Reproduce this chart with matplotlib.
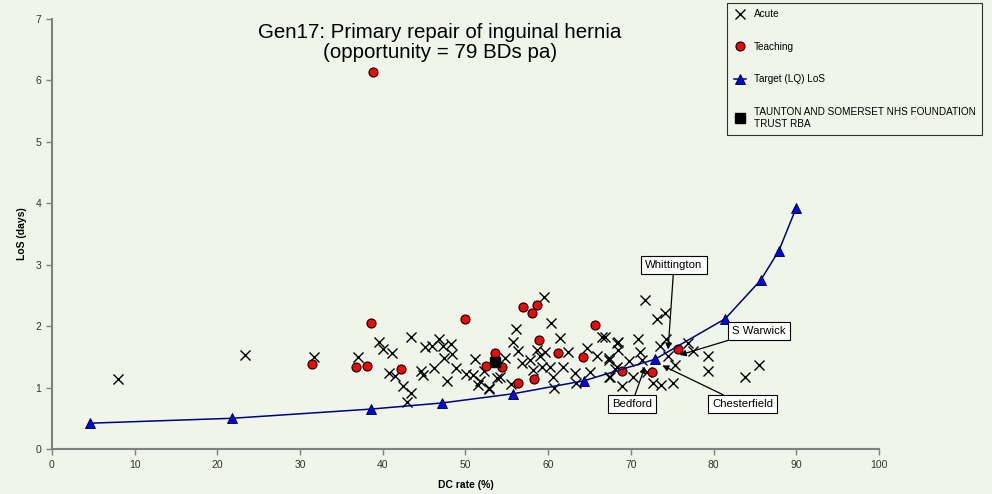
import matplotlib
matplotlib.use('Agg')
import matplotlib.pyplot as plt

plt.rcParams['font.family'] = ['Liberation Sans', 'DejaVu Sans']

bg = '#eff5e8'

# Acute trusts (DC rate %, LoS days)
acute_x = [8.0, 23.3, 31.7, 37.0, 39.5, 40.0, 41.1, 43.4, 40.8, 41.5, 42.4, 43.4, 42.9,
           44.6, 44.9, 45.1, 46.0, 46.8, 47.3, 48.2, 48.4, 47.4, 46.2, 47.8, 48.9, 50.1,
           51.1, 50.9, 51.8, 51.5, 52.8, 52.2, 53.8, 59.5, 60.3, 56.1, 55.7, 56.4, 54.8,
           54.2, 52.8, 55.5, 61.4, 58.7, 59.6, 62.4, 56.8, 57.8, 59.0, 58.2, 59.2, 60.2,
           60.6, 61.8, 60.7, 64.7, 65.9, 66.5, 63.2, 63.4, 65.1, 67.3, 67.4, 68.3, 68.3,
           71.7, 74.1, 73.1, 66.9, 68.5, 70.8, 68.5, 71.1, 74.3, 73.5, 76.9, 77.5, 67.3,
           68.1, 69.8, 71.4, 67.5, 70.3, 72.0, 68.9, 74.5, 75.3, 72.7, 73.6, 75.1, 79.3,
           79.3, 85.5, 83.8]
acute_y = [1.14, 1.53, 1.49, 1.49, 1.75, 1.62, 1.57, 1.82, 1.23, 1.19, 1.03, 0.91, 0.76,
           1.27, 1.20, 1.66, 1.68, 1.79, 1.67, 1.71, 1.54, 1.48, 1.32, 1.11, 1.32, 1.22,
           1.47, 1.20, 1.11, 1.04, 0.97, 1.27, 1.15, 2.47, 2.05, 1.95, 1.75, 1.59, 1.48,
           1.17, 0.99, 1.05, 1.80, 1.61, 1.58, 1.58, 1.40, 1.45, 1.51, 1.29, 1.34, 1.34,
           1.17, 1.34, 1.00, 1.64, 1.51, 1.82, 1.23, 1.08, 1.26, 1.48, 1.18, 1.73, 1.34,
           2.43, 2.22, 2.11, 1.82, 1.75, 1.79, 1.61, 1.58, 1.79, 1.68, 1.73, 1.60, 1.45,
           1.31, 1.44, 1.45, 1.17, 1.18, 1.26, 1.02, 1.51, 1.37, 1.07, 1.04, 1.08, 1.51,
           1.27, 1.37, 1.17]

# Teaching trusts
teach_x = [31.4, 36.8, 38.1, 38.6, 38.8, 42.2, 49.9, 52.5, 53.6, 54.4, 56.3, 57.0,
           58.1, 58.6, 58.3, 58.9, 61.2, 64.2, 65.6, 68.9, 72.6, 75.7]
teach_y = [1.39, 1.33, 1.35, 2.05, 6.14, 1.31, 2.12, 1.35, 1.56, 1.33, 1.07, 2.31,
           2.21, 2.35, 1.14, 1.77, 1.57, 1.50, 2.02, 1.27, 1.25, 1.63]

# Target (LQ) LoS curve
target_x = [4.6, 21.8, 38.6, 47.2, 55.8, 64.3, 72.9, 81.4, 85.7, 87.9, 90.0]
target_y = [0.42, 0.50, 0.65, 0.75, 0.90, 1.11, 1.46, 2.12, 2.75, 3.23, 3.93]

# highlighted trust
rba_x = [53.6]
rba_y = [1.42]

# labelled trusts: name, point, label position
ann_names = ['Whittington', 'S Warwick', 'Bedford', 'Chesterfield']
ann_pts = [(74.5, 1.62), (75.9, 1.53), (71.7, 1.34), (73.8, 1.36)]
ann_txt = [(75.2, 2.99), (85.5, 1.92), (70.1, 0.73), (83.5, 0.73)]

fig = plt.figure(figsize=(9.92, 4.94), dpi=100, facecolor=bg)
ax = fig.add_axes([0.0524, 0.0911, 0.8337, 0.8704], facecolor=bg)

ax.plot(acute_x, acute_y, ls='none', marker='x', ms=7, mew=1.0, color='black', label='Acute', zorder=3)
ax.plot(teach_x, teach_y, ls='none', marker='o', ms=6.5, mfc='red', mec='black', mew=0.8,
        label='Teaching', zorder=4)
ax.plot(target_x, target_y, color='#000080', lw=1.1, marker='^', ms=6.5, mfc='blue', mec='black',
        mew=0.6, label='Target (LQ) LoS', zorder=5)
ax.plot(rba_x, rba_y, ls='none', marker='s', ms=7.5, color='black',
        label='TAUNTON AND SOMERSET NHS FOUNDATION\nTRUST RBA', zorder=6)

for name, pt, tp in zip(ann_names, ann_pts, ann_txt):
    ax.annotate(name, xy=pt, xytext=tp, fontsize=8.2, ha='center', va='center',
                bbox=dict(boxstyle='square,pad=0.35', fc='white', ec='black', lw=0.8),
                arrowprops=dict(arrowstyle='-|>', color='black', lw=0.9, mutation_scale=9,
                                shrinkA=0, shrinkB=0),
                zorder=7)

ax.text(46.9, 6.62, 'Gen17: Primary repair of inguinal hernia\n(opportunity = 79 BDs pa)',
        ha='center', va='center', fontsize=14.8, linespacing=1.1)

ax.set_xlim(0, 100)
ax.set_ylim(0, 7)
ax.set_xticks(range(0, 101, 10))
ax.set_yticks(range(0, 8))
ax.tick_params(labelsize=7.5, length=4, width=1, color='#808080', labelcolor='#333333')
ax.tick_params(axis='x', pad=4)
for s in ['top', 'right']:
    ax.spines[s].set_visible(False)
for s in ['left', 'bottom']:
    ax.spines[s].set_color('#808080')
    ax.spines[s].set_linewidth(1.5)

ax.set_xlabel('DC rate (%)', fontsize=7.5, fontweight='bold', labelpad=7)
ax.set_ylabel('LoS (days)', fontsize=7.5, fontweight='bold', labelpad=6)

leg = fig.legend(loc='upper right', bbox_to_anchor=(982 / 992, 1 - 3 / 494), fontsize=7.2,
                 frameon=True, fancybox=False, labelspacing=2.25, handlelength=1.2,
                 handletextpad=0.8, borderpad=0.65, borderaxespad=0)
leg.get_frame().set_facecolor(bg)
leg.get_frame().set_edgecolor('black')
leg.get_frame().set_linewidth(0.8)

fig.savefig('out.png', dpi=100, facecolor=bg)
